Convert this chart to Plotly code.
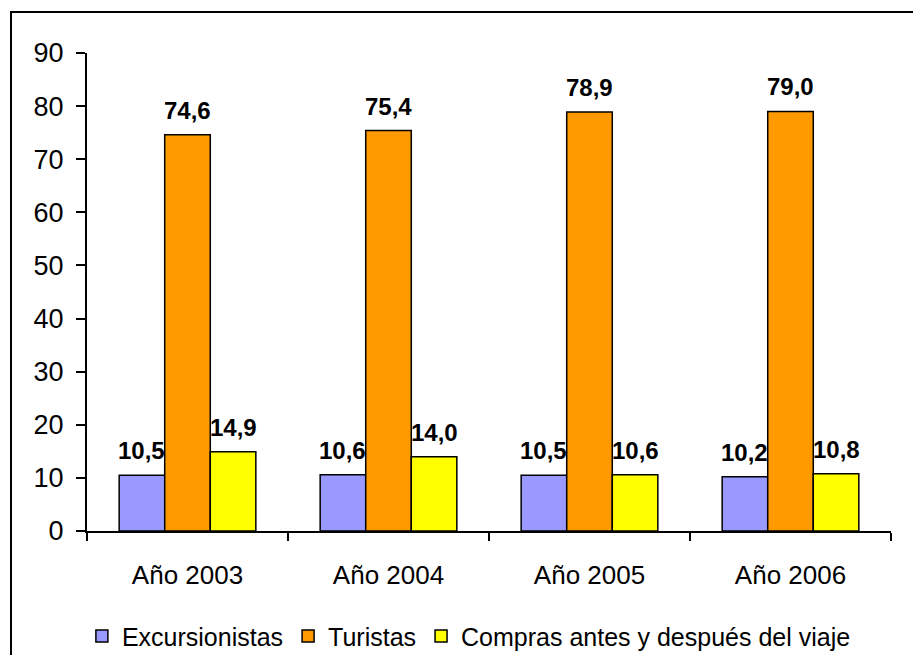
import plotly.graph_objects as go

categories = ["Año 2003", "Año 2004", "Año 2005", "Año 2006"]
excursionistas = [10.5, 10.6, 10.5, 10.2]
turistas = [74.6, 75.4, 78.9, 79.0]
compras = [14.9, 14.0, 10.6, 10.8]
series_names = ["Excursionistas", "Turistas", "Compras antes y después del viaje"]
series_colors = ["#9999FF", "#FF9900", "#FFFF00"]
y_ticks = [0, 10, 20, 30, 40, 50, 60, 70, 80, 90]

FONT = "Liberation Sans, Arial, sans-serif"
# page body has an 8px margin, so the figure is sized to fit the window
W, H = 913, 647
ML, MR, MT, MB = 79, 30, 45, 124
BARGAP = 0.32

fig = go.Figure()
all_series = [excursionistas, turistas, compras]
for name, vals, col in zip(series_names, all_series, series_colors):
    fig.add_trace(go.Bar(
        x=categories, y=vals, name=name,
        marker=dict(color=col, line=dict(color="black", width=1.5)),
        cliponaxis=False,
    ))

plot_w = W - ML - MR
plot_h = H - MT - MB
bar_px = plot_w / len(categories) * (1 - BARGAP) / len(all_series)
for i, vals in enumerate(all_series):
    offset = (i - (len(all_series) - 1) / 2) * bar_px
    for c, v in zip(categories, vals):
        fig.add_annotation(
            x=c, y=v, xref="x", yref="y", xshift=offset, yshift=9,
            text="<b>" + f"{v:.1f}".replace(".", ",") + "</b>",
            showarrow=False, yanchor="bottom", xanchor="center",
            font=dict(family=FONT, size=24, color="black"),
        )

fig.update_layout(
    width=W, height=H,
    barmode="group", bargap=BARGAP, bargroupgap=0,
    separators=",.",
    paper_bgcolor="white", plot_bgcolor="white",
    margin=dict(l=ML, r=MR, t=MT, b=MB, autoexpand=False),
    font=dict(family=FONT, color="black"),
    showlegend=True,
    legend=dict(orientation="h", x=0.475, xanchor="center", y=-0.22, yanchor="middle",
                font=dict(family=FONT, size=25, color="black"), traceorder="normal"),
)
fig.update_xaxes(
    type="category", tickson="boundaries", ticks="outside", ticklen=8, tickwidth=2,
    tickcolor="black", showline=True, linecolor="black", linewidth=2,
    showgrid=False, tickfont=dict(family=FONT, size=26, color="black"),
    ticklabelstandoff=20,
)
fig.update_yaxes(
    range=[0, 90], tickvals=y_ticks, ticks="outside", ticklen=9, tickwidth=2,
    tickcolor="black", showline=True, linecolor="black", linewidth=2,
    showgrid=False, zeroline=False, tickfont=dict(family=FONT, size=27, color="black"),
    ticklabelstandoff=7,
)
fig.add_shape(type="rect", xref="paper", yref="paper",
              x0=(3 - ML) / plot_w, x1=(925 - ML) / plot_w,
              y0=(MT + plot_h - 660) / plot_h, y1=(MT + plot_h - 4) / plot_h,
              line=dict(color="black", width=2), fillcolor="rgba(0,0,0,0)", layer="below")
fig.write_html("out.html")
